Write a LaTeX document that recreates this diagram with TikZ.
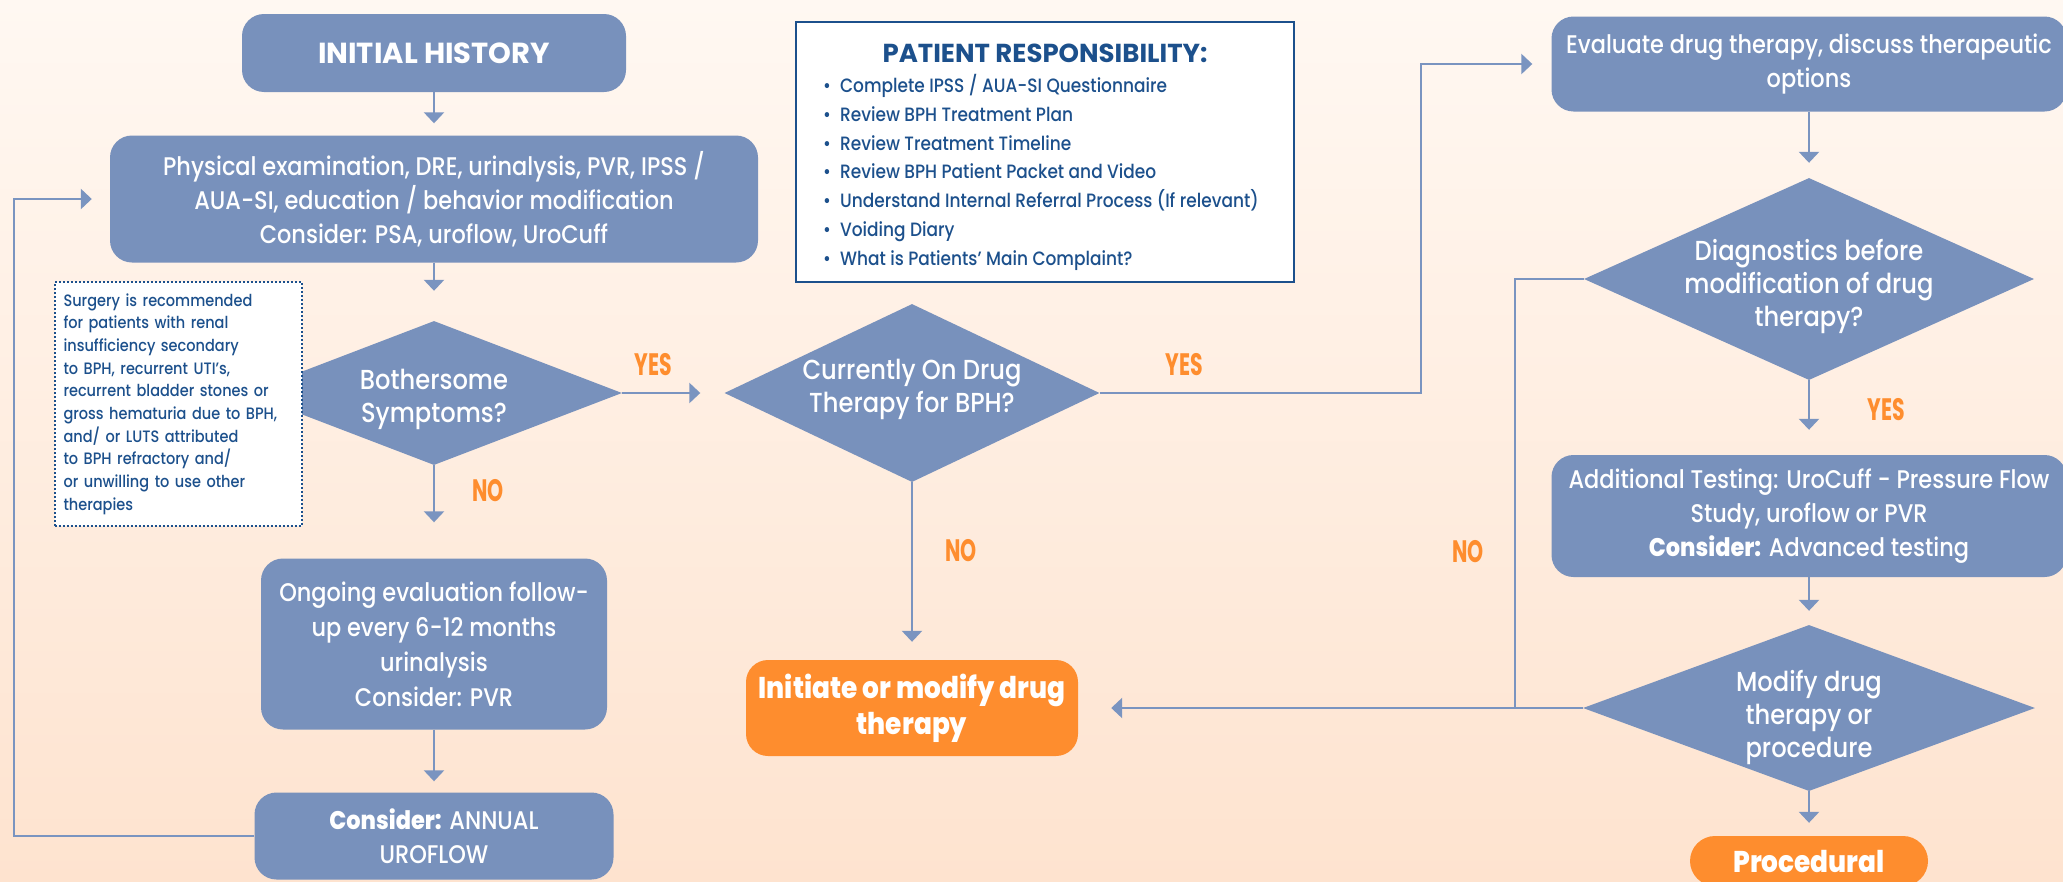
\documentclass[tikz,border=0pt]{standalone}
\usepackage{fontspec}
\setmainfont{Poppins}[FakeStretch=0.88, UprightFont={* Medium}]
\newfontfamily\lblfont{Poppins}[FakeStretch=0.66]
\newfontfamily\headfont{Poppins}
\usetikzlibrary{shapes.geometric,arrows.meta}
\definecolor{boxblue}{RGB}{120,145,188}
\definecolor{lineblue}{RGB}{122,148,192}
\definecolor{drugorange}{RGB}{254,141,46}
\definecolor{navy}{RGB}{28,80,140}
\definecolor{bgtop}{RGB}{255,248,242}
\definecolor{bgbot}{RGB}{254,227,207}
\begin{document}
\begin{tikzpicture}[x=1pt,y=-1pt,
  stepbox/.style={rectangle, rounded corners=22pt, fill=boxblue, text=white, align=center, inner sep=0pt, font=\fontsize{25.5}{34}\selectfont},
  orangebox/.style={stepbox, fill=drugorange, font=\fontsize{30}{36}\selectfont\bfseries},
  decision/.style={diamond, fill=boxblue, inner sep=0pt},
  dtext/.style={text=white, align=center, inner sep=0pt, font=\fontsize{27.5}{33}\selectfont},
  answer/.style={text=drugorange, font=\lblfont\bfseries\fontsize{31}{31}\selectfont},
  conn/.style={draw=lineblue, line width=2.5pt},
  arr/.style={conn, -{Triangle[width=20pt,length=11pt]}}]
\useasboundingbox (0,0) rectangle (2063,881);
\clip (0,0) rectangle (2063,881);
\shade[top color=bgtop, bottom color=bgbot] (0,0) rectangle (2063,881);

\node[stepbox, minimum width=384pt, minimum height=78pt, font=\headfont\bfseries\fontsize{29}{33}\selectfont] (history) at (434,53) {INITIAL HISTORY};
\node[stepbox, minimum width=648pt, minimum height=127pt] (exam) at (434,199) {Physical examination, DRE, urinalysis, PVR, IPSS /\\AUA-SI, education / behavior modification\\Consider: PSA, uroflow, UroCuff};
\node[decision, minimum width=376pt, minimum height=144pt] (bother) at (434,393) {};
\node[dtext] (botherTxt) at (434,399) {Bothersome\\Symptoms?};
\node[rectangle, draw=navy, dotted, line width=2pt, fill=white, text=navy, align=left, text width=229pt, inner xsep=9pt, minimum height=244pt, font=\fontsize{16.5}{22.7}\selectfont] (surgery) at (178,404) {Surgery is recommended\\for patients with renal\\insufficiency secondary\\to BPH, recurrent UTI’s,\\recurrent bladder stones or\\gross hematuria due to BPH,\\and/ or LUTS attributed\\to BPH refractory and/\\or unwilling to use other\\therapies};
\node[stepbox, minimum width=346pt, minimum height=171pt, font=\fontsize{25.5}{35}\selectfont] (ongoing) at (434,644) {Ongoing evaluation follow-\\up every 6-12 months\\urinalysis\\Consider: PVR};
\node[stepbox, minimum width=359pt, minimum height=87pt] (annual) at (434,836) {\textbf{Consider:} ANNUAL\\UROFLOW};

\node[draw=navy, line width=2.5pt, fill=white, minimum width=498pt, minimum height=260pt] (patient) at (1045,152) {};
\node[text=navy, inner sep=0pt, font=\headfont\bfseries\fontsize{26}{28}\selectfont] (patientHead) at (1045,53) {PATIENT RESPONSIBILITY:};
\node[text=navy, align=left, anchor=north west, inner sep=0pt, font=\fontsize{19.3}{28.8}\selectfont] (patientList) at (823,74) {\textbullet\hspace{9pt}Complete IPSS / AUA-SI Questionnaire\\\textbullet\hspace{9pt}Review BPH Treatment Plan\\\textbullet\hspace{9pt}Review Treatment Timeline\\\textbullet\hspace{9pt}Review BPH Patient Packet and Video\\\textbullet\hspace{9pt}Understand Internal Referral Process (If relevant)\\\textbullet\hspace{9pt}Voiding Diary\\\textbullet\hspace{9pt}What is Patients’ Main Complaint?};

\node[decision, minimum width=375pt, minimum height=178pt] (current) at (912,393) {};
\node[dtext] (currentTxt) at (912,389) {Currently On Drug\\Therapy for BPH?};
\node[orangebox, minimum width=332pt, minimum height=96pt] (initiate) at (912,708) {Initiate or modify drug\\therapy};

\node[stepbox, minimum width=515pt, minimum height=95pt] (evaluate) at (1809,64) {Evaluate drug therapy, discuss therapeutic\\options};
\node[decision, minimum width=450pt, minimum height=202pt] (diagnose) at (1809,279) {};
\node[dtext] (diagnoseTxt) at (1809,286) {Diagnostics before\\modification of drug\\therapy?};
\node[stepbox, minimum width=515pt, minimum height=122pt] (testing) at (1809,516) {Additional Testing: UroCuff - Pressure Flow\\Study, uroflow or PVR\\\textbf{Consider:} Advanced testing};
\node[decision, minimum width=452pt, minimum height=166pt] (modify) at (1809,708) {};
\node[dtext] (modifyTxt) at (1809,717) {Modify drug\\therapy or\\procedure};
\node[orangebox, rounded corners=25pt, minimum width=238pt, minimum height=50pt] (procedural) at (1809,861) {Procedural};

\coordinate (loopL) at (14,0);
\coordinate (yesR) at (1421,0);
\coordinate (noR) at (1515,0);
\draw[arr, shorten >=12pt] (history) -- (exam);
\draw[arr, shorten >=30pt] (exam) -- (bother);
\draw[arr, shorten >=24pt] (bother) -- (current);
\draw[arr, shorten >=36pt] (bother) -- (ongoing);
\draw[arr, shorten >=11pt] (ongoing) -- (annual);
\draw[arr, shorten >=18pt] (annual.west) -- (annual.west -| loopL) |- (exam.west);
\draw[arr, shorten >=18pt] (current) -- (initiate);
\draw[arr, shorten >=19pt] (current.east) -- (current.east -| yesR) |- (evaluate.west);
\draw[arr, shorten >=15pt] (evaluate) -- (diagnose);
\draw[arr, shorten >=25pt] (diagnose) -- (testing);
\draw[arr, shorten >=14pt] (testing) -- (modify);
\draw[arr, shorten >=13pt] (modify) -- (procedural);
\draw[arr, shorten >=33pt] (modify) -- (initiate);
\draw[conn] (diagnose.west) -- (diagnose.west -| noR) -- (modify.west -| noR);

\node[answer] (yesA) at (653,365) {YES};
\node[answer] (noA) at (488,491) {NO};
\node[answer] (yesB) at (1184,365) {YES};
\node[answer] (noB) at (961,551) {NO};
\node[answer] (noC) at (1468,552) {NO};
\node[answer] (yesC) at (1886,410) {YES};
\end{tikzpicture}
\end{document}
